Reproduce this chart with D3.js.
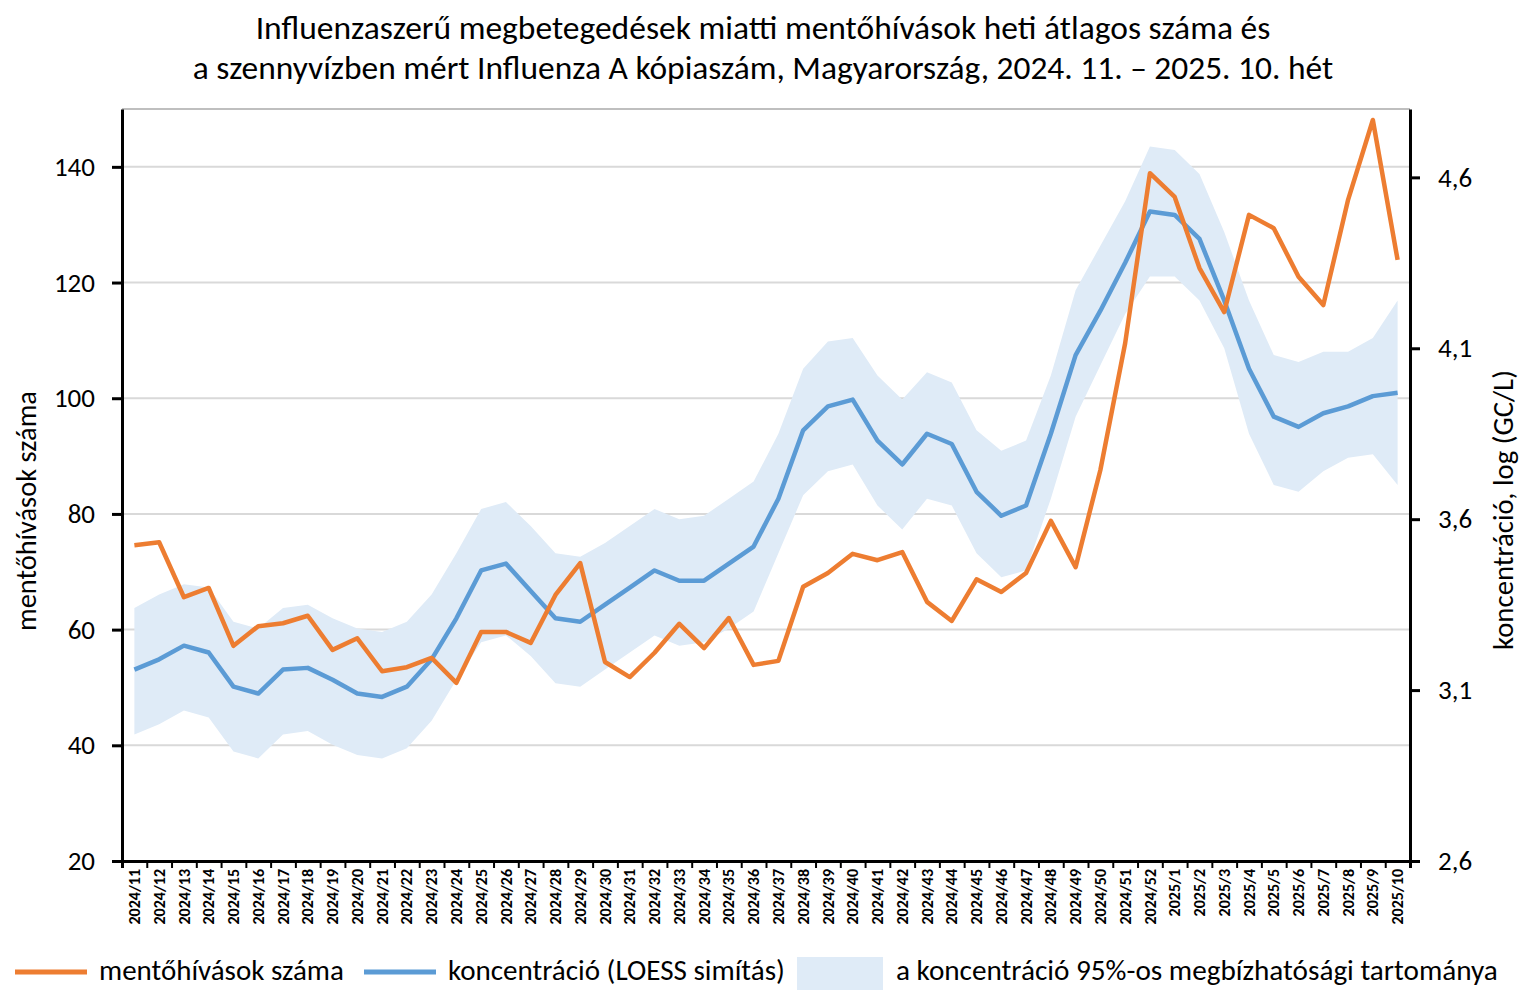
<!DOCTYPE html>
<html>
<head>
<meta charset="utf-8">
<script src="https://cdn.jsdelivr.net/npm/d3@7"></script>
<style>
  body { margin: 0; background: #fff; }
  text { font-family: Carlito, "Open Sans", sans-serif; fill: #000; }
</style>
</head>
<body>
<div id="chart"></div>
<script>
// weeks on the x axis
var weeks = [];
for (var w = 11; w <= 52; w++) weeks.push("2024/" + w);
for (var w2 = 1; w2 <= 10; w2++) weeks.push("2025/" + w2);

// mentőhívások száma (left axis)
var calls = [74.6, 75.1, 65.6, 67.2, 57.2, 60.6, 61.1, 62.4, 56.5, 58.5,
             52.8, 53.5, 55.1, 50.8, 59.6, 59.6, 57.7, 66.0, 71.5, 54.4,
             51.8, 56.0, 61.0, 56.8, 62.0, 53.9, 54.6, 67.4, 69.8, 73.1,
             72.0, 73.4, 64.8, 61.5, 68.7, 66.5, 69.8, 78.8, 70.8, 87.6,
             109.5, 138.9, 134.8, 122.5, 114.9, 131.7, 129.4, 121.0, 116.1, 134.3,
             148.1, 123.9];

// koncentráció, LOESS (right axis, log GC/L)
var conc = [3.16, 3.19, 3.23, 3.21, 3.11, 3.09, 3.16, 3.165, 3.13, 3.09,
            3.08, 3.11, 3.19, 3.31, 3.45, 3.47, 3.39, 3.31, 3.30, 3.35,
            3.40, 3.45, 3.42, 3.42, 3.47, 3.52, 3.66, 3.86, 3.93, 3.95,
            3.83, 3.76, 3.85, 3.82, 3.68, 3.61, 3.64, 3.85, 4.08, 4.21,
            4.35, 4.50, 4.49, 4.42, 4.24, 4.04, 3.90, 3.87, 3.91, 3.93,
            3.96, 3.97];

// 95% band
var concLow = [2.97, 3.00, 3.04, 3.02, 2.92, 2.90, 2.97, 2.98, 2.94, 2.91,
               2.90, 2.93, 3.01, 3.13, 3.24, 3.26, 3.20, 3.12, 3.11, 3.16,
               3.21, 3.26, 3.23, 3.24, 3.28, 3.33, 3.50, 3.67, 3.74, 3.76,
               3.64, 3.57, 3.66, 3.64, 3.50, 3.43, 3.45, 3.66, 3.90, 4.05,
               4.20, 4.31, 4.31, 4.24, 4.10, 3.85, 3.70, 3.68, 3.74, 3.78,
               3.79, 3.70];
var concHigh = [3.34, 3.38, 3.41, 3.40, 3.30, 3.28, 3.34, 3.35, 3.31, 3.28,
                3.27, 3.30, 3.38, 3.50, 3.63, 3.65, 3.58, 3.50, 3.49, 3.53,
                3.58, 3.63, 3.60, 3.61, 3.66, 3.71, 3.85, 4.04, 4.12, 4.13,
                4.02, 3.95, 4.03, 4.00, 3.86, 3.80, 3.83, 4.02, 4.27, 4.40,
                4.53, 4.69, 4.68, 4.61, 4.44, 4.24, 4.08, 4.06, 4.09, 4.09,
                4.13, 4.24];

var leftTicks = [20, 40, 60, 80, 100, 120, 140];
var rightTicks = [2.6, 3.1, 3.6, 4.1, 4.6];

var titleLines = [
    "Influenzaszerű megbetegedések miatti mentőhívások heti átlagos száma és",
    "a szennyvízben mért Influenza A kópiaszám, Magyarország, 2024. 11. – 2025. 10. hét"
];

var orange = "#ed7d31", blue = "#5b9bd5", bandFill = "#dfebf7";
var width = 1526, height = 997;
var plotL = 122, plotR = 1410, plotT = 109, plotB = 861;

var svg = d3.select("#chart")
    .append("svg")
    .attr("width", width)
    .attr("height", height);

// shrink/grow a text so it covers the same width as in the picture
function fit(sel, target) {
    var size = parseFloat(sel.attr("font-size"));
    var len = sel.node().getComputedTextLength();
    sel.attr("font-size", size * target / len);
}

var x = d3.scaleBand().domain(weeks).range([plotL, plotR]);
var xc = function(d) { return x(d) + x.bandwidth() / 2; };
var yL = d3.scaleLinear().domain([20, 150]).range([plotB, plotT]);
var yR = d3.scaleLinear().domain([2.6, 4.8]).range([plotB, plotT]);

// gridlines
svg.append("g")
    .selectAll("line")
    .data(leftTicks.slice(1))
    .enter()
    .append("line")
    .attr("x1", plotL).attr("x2", plotR)
    .attr("y1", function(d) { return yL(d); })
    .attr("y2", function(d) { return yL(d); })
    .attr("stroke", "#d9d9d9")
    .attr("stroke-width", 2);

svg.append("line")
    .attr("x1", plotL).attr("x2", plotR)
    .attr("y1", yL(150)).attr("y2", yL(150))
    .attr("stroke", "#bfbfbf")
    .attr("stroke-width", 2);

// 95% band
var band = d3.area()
    .x(function(d, i) { return xc(weeks[i]); })
    .y0(function(d, i) { return yR(concLow[i]); })
    .y1(function(d, i) { return yR(concHigh[i]); });

svg.append("path")
    .datum(weeks)
    .attr("d", band)
    .attr("fill", bandFill);

var line = d3.line()
    .x(function(d, i) { return xc(weeks[i]); });

svg.append("path")
    .datum(conc)
    .attr("d", line.y(function(d) { return yR(d); }))
    .attr("fill", "none")
    .attr("stroke", blue)
    .attr("stroke-width", 4.5)
    .attr("stroke-linejoin", "round");

svg.append("path")
    .datum(calls)
    .attr("d", line.y(function(d) { return yL(d); }))
    .attr("fill", "none")
    .attr("stroke", orange)
    .attr("stroke-width", 4.5)
    .attr("stroke-linejoin", "round");

// axes
var leftAxis = svg.append("g")
    .attr("transform", "translate(" + plotL + ",0)")
    .call(d3.axisLeft(yL).tickValues(leftTicks).tickSize(10).tickPadding(17).tickSizeOuter(0));

var rightAxis = svg.append("g")
    .attr("transform", "translate(" + plotR + ",0)")
    .call(d3.axisRight(yR).tickValues(rightTicks).tickSize(10).tickPadding(18).tickSizeOuter(0)
        .tickFormat(function(d) { return d3.format(".1f")(d).replace(".", ","); }));

[leftAxis, rightAxis].forEach(function(g) {
    g.select(".domain").attr("stroke", "#000").attr("stroke-width", 3);
    g.selectAll(".tick line").attr("stroke", "#000").attr("stroke-width", 3);
    g.selectAll(".tick text").attr("font-size", 27).attr("font-family", null);
});

// x axis: tick marks between categories, labels at the centre
var xb = d3.scaleLinear().domain([0, weeks.length]).range([plotL, plotR]);
var xMarks = svg.append("g")
    .attr("transform", "translate(0," + plotB + ")")
    .call(d3.axisBottom(xb).tickValues(d3.range(weeks.length + 1)).tickSize(7).tickFormat(""));
xMarks.select(".domain").attr("stroke", "#000").attr("stroke-width", 3);
xMarks.selectAll(".tick line").attr("stroke", "#000").attr("stroke-width", 2);

var xLabels = svg.append("g")
    .attr("transform", "translate(0," + plotB + ")")
    .call(d3.axisBottom(x).tickSize(0).tickPadding(0));
xLabels.select(".domain").remove();
xLabels.selectAll(".tick text")
    .attr("font-size", 16)
    .attr("font-weight", 600)
    .attr("font-family", null)
    .attr("text-anchor", "end")
    .attr("transform", "rotate(-90)")
    .attr("x", -8)
    .attr("y", 0)
    .attr("dy", "0.35em");

// title
titleLines.forEach(function(t, i) {
    var tt = svg.append("text")
        .attr("x", 763)
        .attr("y", 39 + i * 40)
        .attr("text-anchor", "middle")
        .attr("font-size", 26)
        .text(t);
    fit(tt, i === 0 ? 1015 : 1141);
});

// axis titles
var lt = svg.append("text")
    .attr("transform", "translate(36,511) rotate(-90)")
    .attr("text-anchor", "middle")
    .attr("font-size", 24)
    .text("mentőhívások száma");
fit(lt, 240);

var rt = svg.append("text")
    .attr("transform", "translate(1513,510) rotate(-90)")
    .attr("text-anchor", "middle")
    .attr("font-size", 24)
    .text("koncentráció, log (GC/L)");
fit(rt, 280);

// legend
var legY = 972;
svg.append("line").attr("x1", 15).attr("x2", 87).attr("y1", legY).attr("y2", legY)
    .attr("stroke", orange).attr("stroke-width", 5);
var l1 = svg.append("text").attr("x", 99).attr("y", legY + 8).attr("font-size", 24)
    .text("mentőhívások száma");
fit(l1, 245);

svg.append("line").attr("x1", 364).attr("x2", 436).attr("y1", legY).attr("y2", legY)
    .attr("stroke", blue).attr("stroke-width", 5);
var l2 = svg.append("text").attr("x", 448).attr("y", legY + 8).attr("font-size", 24)
    .text("koncentráció (LOESS simítás)");
fit(l2, 337);

svg.append("rect").attr("x", 797).attr("y", 957).attr("width", 86).attr("height", 33)
    .attr("fill", bandFill);
var l3 = svg.append("text").attr("x", 896).attr("y", legY + 8).attr("font-size", 24)
    .text("a koncentráció 95%-os megbízhatósági tartománya");
fit(l3, 602);
</script>
</body>
</html>
